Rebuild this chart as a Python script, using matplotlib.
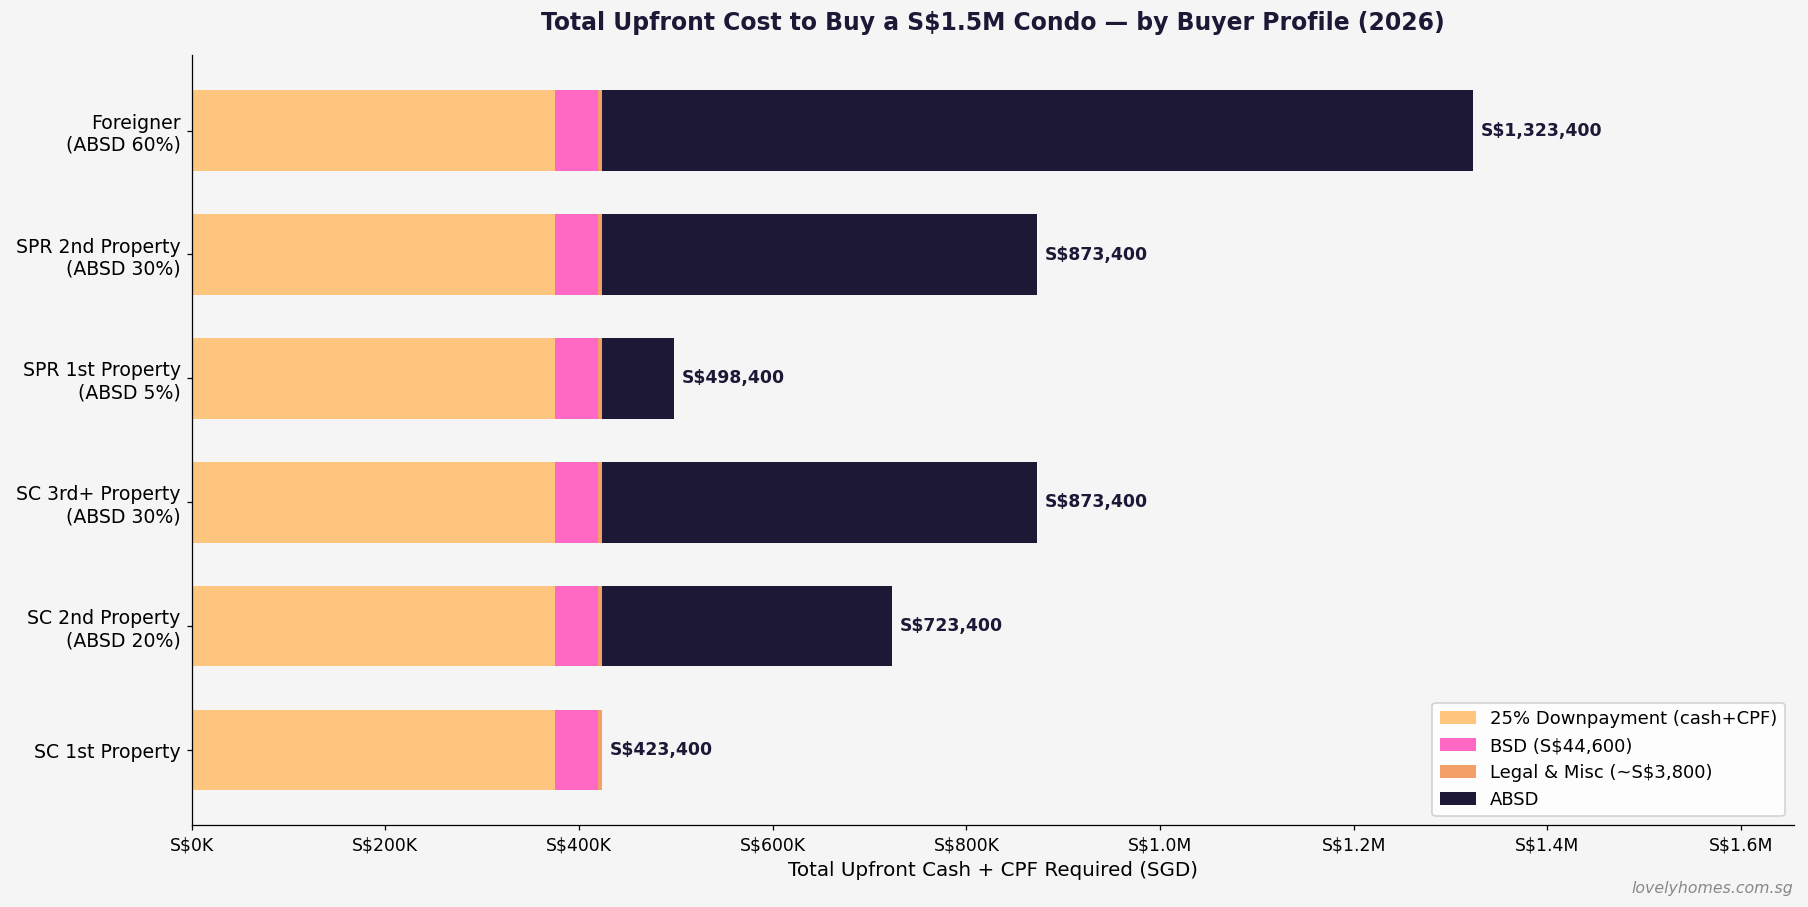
import matplotlib
matplotlib.use("Agg")
from matplotlib import pyplot as plt
import numpy as np

plt.rcParams["font.family"] = ["DejaVu Sans"]

profiles = ["SC 1st Property", "SC 2nd Property\n(ABSD 20%)", "SC 3rd+ Property\n(ABSD 30%)",
            "SPR 1st Property\n(ABSD 5%)", "SPR 2nd Property\n(ABSD 30%)", "Foreigner\n(ABSD 60%)"]
downpayment = [375000, 375000, 375000, 375000, 375000, 375000]
bsd = [44600, 44600, 44600, 44600, 44600, 44600]
legal = [3800, 3800, 3800, 3800, 3800, 3800]
absd = [0, 300000, 450000, 75000, 450000, 900000]
xtick_labels = ["S$0K", "S$200K", "S$400K", "S$600K", "S$800K", "S$1.0M", "S$1.2M", "S$1.4M", "S$1.6M"]

bg = "#f5f5f5"
dark = "#1c1836"
fig, ax = plt.subplots(figsize=(16, 8.027), dpi=113)
fig.patch.set_facecolor(bg)
ax.set_facecolor(bg)

y = np.arange(len(profiles))
h = 0.65
left = np.zeros(len(profiles))
parts = [(downpayment, "#fdc57d", "25% Downpayment (cash+CPF)"),
         (bsd, "#ff69c4", "BSD (S$44,600)"),
         (legal, "#f2a068", "Legal & Misc (~S$3,800)"),
         (absd, dark, "ABSD")]
for vals, col, lab in parts:
    ax.barh(y, vals, height=h, left=left, color=col, label=lab)
    left = left + np.array(vals)

# total labels at bar ends
for yi, tot in zip(y, left):
    ax.text(tot + 8000, yi, "S${:,.0f}".format(tot), va="center", ha="left",
            fontsize=11, fontweight="bold", color=dark)

ax.set_yticks(y)
ax.set_yticklabels(profiles, fontsize=12)
ax.set_xlim(0, left.max() * 1.25)
ax.set_xticks(np.arange(0, 1700000, 200000))
ax.set_xticklabels(xtick_labels, fontsize=11)
ax.set_xlabel("Total Upfront Cash + CPF Required (SGD)", fontsize=12.7)
ax.set_title("Total Upfront Cost to Buy a S$1.5M Condo \u2014 by Buyer Profile (2026)",
             fontsize=15, fontweight="bold", color=dark, pad=16)
ax.spines["top"].set_visible(False)
ax.spines["right"].set_visible(False)
ax.legend(loc="lower right", fontsize=11.5, facecolor="white", framealpha=0.9)

fig.text(0.992, 0.012, "lovelyhomes.com.sg", ha="right", va="bottom", fontsize=10,
         style="italic", color="#888888")

plt.subplots_adjust(left=0.106, right=0.992, top=0.939, bottom=0.09)
plt.savefig("out.png", dpi=113, facecolor=bg)
